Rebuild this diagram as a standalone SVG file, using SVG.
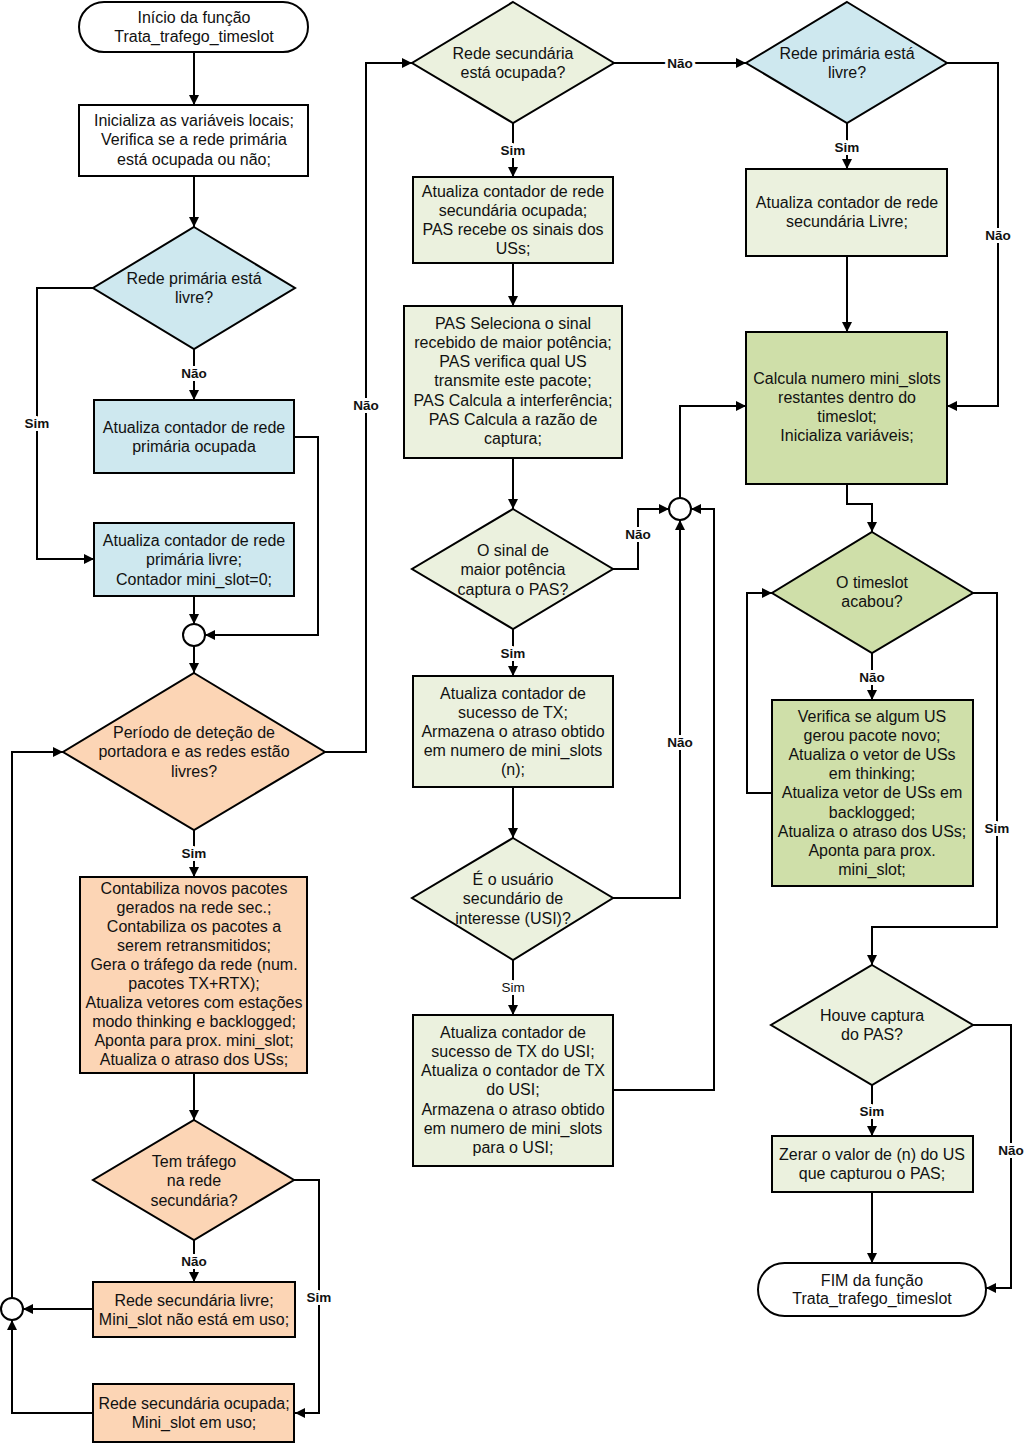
<svg xmlns="http://www.w3.org/2000/svg" width="1024" height="1445" viewBox="0 0 1024 1445">
<style>
.n{stroke:#000;stroke-width:2}
.w{fill:#fff}.b{fill:#cee8ef}.o{fill:#fcd5b5}.g{fill:#ebf1de}.d{fill:#cfdfa9}
text{font-family:"Liberation Sans",Arial,sans-serif;font-size:16px;fill:#111;text-anchor:middle}
.l{font-size:13.5px;font-weight:bold;paint-order:stroke;stroke:#fff;stroke-width:6px;stroke-linejoin:round}
.ln{font-weight:normal}
.c path{fill:none;stroke:#000;stroke-width:2;marker-end:url(#a)}
</style>
<defs>
<marker id="a" viewBox="0 0 10 10" refX="10" refY="5" markerWidth="10" markerHeight="11" markerUnits="userSpaceOnUse" orient="auto"><path d="M0,0 L10,5 L0,10 z" fill="#000"/></marker>
</defs>
<rect width="1024" height="1445" fill="#fff"/>

<g class="c" id="connectors">
<path d="M194,52 V105"/>
<path d="M194,176 V227"/>
<path d="M194,349 V400"/>
<path d="M93,288 H37 V559 H94"/>
<path d="M294,437 H318 V635 H205"/>
<path d="M194,596 V624"/>
<path d="M194,646 V673"/>
<path d="M325,752 H366 V63 H412"/>
<path d="M194,830 V877"/>
<path d="M194,1073 V1120"/>
<path d="M194,1240 V1282"/>
<path d="M93,1309 H23"/>
<path d="M294,1180 H319 V1413 H295"/>
<path d="M93,1413 H12 V1320"/>
<path d="M12,1298 V752 H63"/>
<path d="M614,63 H746"/>
<path d="M513,123 V177"/>
<path d="M513,263 V306"/>
<path d="M513,458 V509"/>
<path d="M613,569 H638 V509 H669"/>
<path d="M513,629 V676"/>
<path d="M513,787 V838"/>
<path d="M613,898 H680 V520"/>
<path d="M513,960 V1015"/>
<path d="M613,1090 H714 V509 H691"/>
<path d="M680,498 V406 H746"/>
<path d="M947,63 H998 V406 H947"/>
<path d="M847,123 V169"/>
<path d="M847,256 V332"/>
<path d="M847,484 V504 H872 V532"/>
<path d="M872,653 V700"/>
<path d="M772,793 H747 V593 H772"/>
<path d="M973,593 H997 V927 H872 V965"/>
<path d="M973,1025 H1011 V1288 H986"/>
<path d="M872,1085 V1136"/>
<path d="M872,1192 V1263"/>
<text class="l" x="194" y="378">Não</text>
<text class="l" x="37" y="428">Sim</text>
<text class="l" x="366" y="410">Não</text>
<text class="l" x="194" y="858">Sim</text>
<text class="l" x="194" y="1266">Não</text>
<text class="l" x="319" y="1302">Sim</text>
<text class="l" x="680" y="68">Não</text>
<text class="l" x="513" y="155">Sim</text>
<text class="l" x="638" y="539">Não</text>
<text class="l" x="513" y="658">Sim</text>
<text class="l" x="680" y="747">Não</text>
<text class="l ln" x="513" y="992">Sim</text>
<text class="l" x="998" y="240">Não</text>
<text class="l" x="847" y="152">Sim</text>
<text class="l" x="872" y="682">Não</text>
<text class="l" x="997" y="833">Sim</text>
<text class="l" x="1011" y="1155">Não</text>
<text class="l" x="872" y="1116">Sim</text>
</g>

<g id="start"><rect class="n w" x="79" y="2" width="229" height="50" rx="25"/>
<text x="194"><tspan x="194" y="22.5">Início da função</tspan><tspan x="194" y="41.5">Trata_trafego_timeslot</tspan></text></g>

<g id="init"><rect class="n w" x="79" y="105" width="229" height="71"/>
<text><tspan x="194" y="125.5">Inicializa as variáveis locais;</tspan><tspan x="194" y="145">Verifica se a rede primária</tspan><tspan x="194" y="164.5">está ocupada ou não;</tspan></text></g>

<g id="d-prim1"><polygon class="n b" points="194,227 295,288 194,349 93,288"/>
<text><tspan x="194" y="283.5">Rede primária está</tspan><tspan x="194" y="303">livre?</tspan></text></g>

<g id="b-prim-ocup"><rect class="n b" x="94" y="400" width="200" height="73"/>
<text><tspan x="194" y="432.5">Atualiza contador de rede</tspan><tspan x="194" y="452">primária ocupada</tspan></text></g>

<g id="b-prim-livre"><rect class="n b" x="94" y="523" width="200" height="73"/>
<text><tspan x="194" y="545.5">Atualiza contador de rede</tspan><tspan x="194" y="565">primária livre;</tspan><tspan x="194" y="584.5">Contador mini_slot=0;</tspan></text></g>

<g id="j1"><circle class="n w" cx="194" cy="635" r="11"/></g>

<g id="d-periodo"><polygon class="n o" points="194,673 325,752 194,830 63,752"/>
<text><tspan x="194" y="737.5">Período de deteção de</tspan><tspan x="194" y="757">portadora e as redes estão</tspan><tspan x="194" y="776.5">livres?</tspan></text></g>

<g id="b-contab"><rect class="n o" x="80" y="877" width="227" height="196"/>
<text><tspan x="194" y="893.5">Contabiliza novos pacotes</tspan><tspan x="194" y="912.6">gerados na rede sec.;</tspan><tspan x="194" y="931.7">Contabiliza os pacotes a</tspan><tspan x="194" y="950.8">serem retransmitidos;</tspan><tspan x="194" y="969.9">Gera o tráfego da rede (num.</tspan><tspan x="194" y="989">pacotes TX+RTX);</tspan><tspan x="194" y="1008.1">Atualiza vetores com estações</tspan><tspan x="194" y="1027.2">modo thinking e backlogged;</tspan><tspan x="194" y="1046.3">Aponta para prox. mini_slot;</tspan><tspan x="194" y="1065.4">Atualiza o atraso dos USs;</tspan></text></g>

<g id="d-trafego"><polygon class="n o" points="194,1120 294,1180 194,1240 93,1180"/>
<text><tspan x="194" y="1166.5">Tem tráfego</tspan><tspan x="194" y="1186">na rede</tspan><tspan x="194" y="1205.5">secundária?</tspan></text></g>

<g id="b-sec-livre"><rect class="n o" x="93" y="1282" width="202" height="55"/>
<text><tspan x="194" y="1305.5">Rede secundária livre;</tspan><tspan x="194" y="1324.5">Mini_slot não está em uso;</tspan></text></g>

<g id="b-sec-ocup"><rect class="n o" x="93" y="1384" width="201" height="58"/>
<text><tspan x="194" y="1408.5">Rede secundária ocupada;</tspan><tspan x="194" y="1428">Mini_slot em uso;</tspan></text></g>

<g id="j2"><circle class="n w" cx="12" cy="1309" r="11"/></g>

<g id="d-sec-ocup"><polygon class="n g" points="513,2 614,63 513,123 412,63"/>
<text><tspan x="513" y="58.5">Rede secundária</tspan><tspan x="513" y="78">está ocupada?</tspan></text></g>

<g id="b-sec-cont"><rect class="n g" x="413" y="177" width="200" height="86"/>
<text><tspan x="513" y="196.5">Atualiza contador de rede</tspan><tspan x="513" y="215.7">secundária ocupada;</tspan><tspan x="513" y="234.9">PAS recebe os sinais dos</tspan><tspan x="513" y="254.1">USs;</tspan></text></g>

<g id="b-pas"><rect class="n g" x="404" y="306" width="218" height="152"/>
<text><tspan x="513" y="328.5">PAS Seleciona o sinal</tspan><tspan x="513" y="347.8">recebido de maior potência;</tspan><tspan x="513" y="367.1">PAS verifica qual US</tspan><tspan x="513" y="386.4">transmite este pacote;</tspan><tspan x="513" y="405.7">PAS Calcula a interferência;</tspan><tspan x="513" y="425">PAS Calcula a razão de</tspan><tspan x="513" y="444.3">captura;</tspan></text></g>

<g id="d-sinal"><polygon class="n g" points="513,509 613,569 513,629 412,569"/>
<text><tspan x="513" y="555.5">O sinal de</tspan><tspan x="513" y="575">maior potência</tspan><tspan x="513" y="594.5">captura o PAS?</tspan></text></g>

<g id="b-sucesso"><rect class="n g" x="413" y="676" width="200" height="111"/>
<text><tspan x="513" y="698.5">Atualiza contador de</tspan><tspan x="513" y="717.7">sucesso de TX;</tspan><tspan x="513" y="736.9">Armazena o atraso obtido</tspan><tspan x="513" y="756.1">em numero de mini_slots</tspan><tspan x="513" y="775.3">(n);</tspan></text></g>

<g id="d-usi"><polygon class="n g" points="513,838 613,898 513,960 412,898"/>
<text><tspan x="513" y="884.5">É o usuário</tspan><tspan x="513" y="904">secundário de</tspan><tspan x="513" y="923.5">interesse (USI)?</tspan></text></g>

<g id="b-usi"><rect class="n g" x="413" y="1015" width="200" height="151"/>
<text><tspan x="513" y="1037.5">Atualiza contador de</tspan><tspan x="513" y="1056.8">sucesso de TX do USI;</tspan><tspan x="513" y="1076.1">Atualiza o contador de TX</tspan><tspan x="513" y="1095.4">do USI;</tspan><tspan x="513" y="1114.7">Armazena o atraso obtido</tspan><tspan x="513" y="1134">em numero de mini_slots</tspan><tspan x="513" y="1153.3">para o USI;</tspan></text></g>

<g id="j3"><circle class="n w" cx="680" cy="509" r="11"/></g>

<g id="d-prim2"><polygon class="n b" points="847,2 947,63 847,123 746,63"/>
<text><tspan x="847" y="58.5">Rede primária está</tspan><tspan x="847" y="78">livre?</tspan></text></g>

<g id="b-sec-livre-cont"><rect class="n g" x="746" y="169" width="201" height="87"/>
<text><tspan x="847" y="207.5">Atualiza contador de rede</tspan><tspan x="847" y="227">secundária Livre;</tspan></text></g>

<g id="b-calcula"><rect class="n d" x="746" y="332" width="201" height="152"/>
<text><tspan x="847" y="383.5">Calcula numero mini_slots</tspan><tspan x="847" y="402.7">restantes dentro do</tspan><tspan x="847" y="421.9">timeslot;</tspan><tspan x="847" y="441.1">Inicializa variáveis;</tspan></text></g>

<g id="d-timeslot"><polygon class="n d" points="872,532 973,593 872,653 772,593"/>
<text><tspan x="872" y="587.5">O timeslot</tspan><tspan x="872" y="607">acabou?</tspan></text></g>

<g id="b-verifica"><rect class="n d" x="772" y="700" width="201" height="186"/>
<text><tspan x="872" y="721.5">Verifica se algum US</tspan><tspan x="872" y="740.7">gerou pacote novo;</tspan><tspan x="872" y="759.9">Atualiza o vetor de USs</tspan><tspan x="872" y="779.1">em thinking;</tspan><tspan x="872" y="798.3">Atualiza vetor de USs em</tspan><tspan x="872" y="817.5">backlogged;</tspan><tspan x="872" y="836.7">Atualiza o atraso dos USs;</tspan><tspan x="872" y="855.9">Aponta para prox.</tspan><tspan x="872" y="875.1">mini_slot;</tspan></text></g>

<g id="d-captura"><polygon class="n g" points="872,965 973,1025 872,1085 771,1025"/>
<text><tspan x="872" y="1020.5">Houve captura</tspan><tspan x="872" y="1040">do PAS?</tspan></text></g>

<g id="b-zerar"><rect class="n g" x="772" y="1136" width="201" height="56"/>
<text><tspan x="872" y="1159.5">Zerar o valor de (n) do US</tspan><tspan x="872" y="1179">que capturou o PAS;</tspan></text></g>

<g id="end"><rect class="n w" x="758" y="1263" width="228" height="53" rx="26.5"/>
<text><tspan x="872" y="1285.5">FIM da função</tspan><tspan x="872" y="1304">Trata_trafego_timeslot</tspan></text></g>
</svg>
